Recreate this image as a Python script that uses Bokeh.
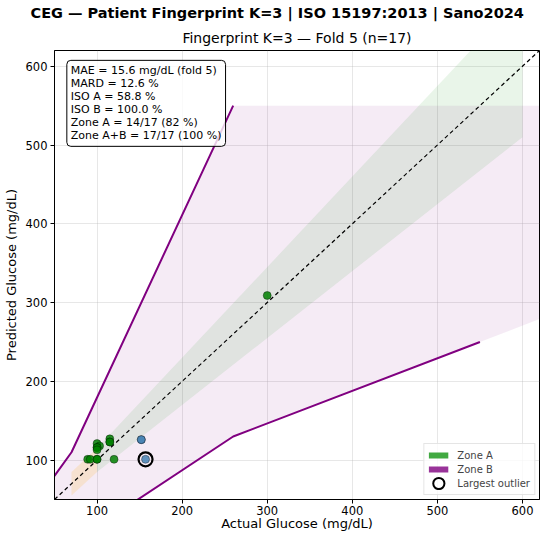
from bokeh.plotting import figure
from bokeh.models import (Range1d, FixedTicker, Label, Title, Legend, LegendItem)
from bokeh.embed import file_html
from bokeh.resources import INLINE

# ---------------- data ----------------
actual_a = [89, 92, 100, 100, 120, 100, 103, 100, 100, 100, 115, 115, 115, 300]
pred_a   = [101, 101, 101, 101, 101, 121, 118, 116, 116, 113, 127, 123, 123, 309]
actual_b = [152, 152, 157]
pred_b   = [126, 126, 101]
outlier_x = [157]
outlier_y = [101]

# Parkes type-1 zone B boundaries
zoneB_upper_x = [0, 50, 70, 260]
zoneB_upper_y = [70, 80, 110, 550]
zoneB_lower_x = [120, 120, 260, 550]
zoneB_lower_y = [0, 30, 130, 250]
zoneB_fill_x = [0, 50, 70, 260, 620, 620, 550, 260, 120, 120, 0]
zoneB_fill_y = [70, 80, 110, 550, 550, 279, 250, 130, 30, 0, 0]

# ISO 15197:2013 band (±15 mg/dL below 100, ±15 % above)
iso_hi_x = [100, 600, 600, 100]
iso_hi_y = [85, 510, 690, 115]
iso_lo_x = [70, 100, 100, 70]
iso_lo_y = [55, 85, 115, 85]

diag = [50, 620]
ticks = [100, 200, 300, 400, 500, 600]
nan = [float("nan")]

stats_lines = ["MAE = 15.6 mg/dL (fold 5)", "MARD = 12.6 %", "ISO A = 58.8 %",
               "ISO B = 100.0 %", "Zone A = 14/17 (82 %)", "Zone A+B = 17/17 (100 %)"]

FONT = "DejaVu Sans"

p = figure(width=540, height=533, output_backend="svg", toolbar_location=None,
           x_range=Range1d(50, 620), y_range=Range1d(50, 620),
           min_border_left=46, min_border_right=1, min_border_top=43, min_border_bottom=31)

p.title.text = "CEG \u2014 Patient Fingerprint K=3 | ISO 15197:2013 | Sano2024"
p.title.text_font = FONT
p.title.text_font_size = "14.5px"
p.title.text_font_style = "bold"
p.title.align = "left"
p.title.offset = -24
p.title.standoff = 4
p.title.text_color = "black"
p.add_layout(Title(text="Fingerprint K=3 \u2014 Fold 5 (n=17)",
                   text_font=FONT, text_font_size="14px", text_font_style="normal",
                   align="center", standoff=10, text_color="black"), "above")

p.outline_line_color = "black"
p.outline_line_width = 1
p.background_fill_color = "white"

for ax in (p.xaxis[0], p.yaxis[0]):
    ax.ticker = FixedTicker(ticks=ticks)
    ax.major_tick_out = 4
    ax.major_tick_in = 0
    ax.minor_tick_line_color = None
    ax.axis_line_color = "black"
    ax.major_tick_line_color = "black"
    ax.major_label_text_font = FONT
    ax.major_label_text_font_size = "11.5px"
    ax.major_label_text_color = "black"
    ax.axis_label_text_font = FONT
    ax.axis_label_text_font_size = "13px"
    ax.axis_label_text_font_style = "normal"
    ax.axis_label_text_color = "black"
p.xaxis.major_label_standoff = 2
p.xaxis.axis_label_standoff = -2
p.yaxis.major_label_standoff = 3
p.yaxis.axis_label_standoff = 4
p.xaxis.axis_label = "Actual Glucose (mg/dL)"
p.yaxis.axis_label = "Predicted Glucose (mg/dL)"

p.grid.grid_line_color = "#b0b0b0"
p.grid.grid_line_alpha = 0.3

# zones
p.patch(zoneB_fill_x, zoneB_fill_y, fill_color="purple", fill_alpha=0.08, line_color=None)
p.patch(iso_hi_x, iso_hi_y, fill_color="#2ca02c", fill_alpha=0.1, line_color=None)
p.patch(iso_lo_x, iso_lo_y, fill_color="orange", fill_alpha=0.15, line_color=None)
p.line(zoneB_upper_x, zoneB_upper_y, line_color="purple", line_width=2)
p.line(zoneB_lower_x, zoneB_lower_y, line_color="purple", line_width=2)
p.line(diag, diag, line_color="black", line_width=1.2, line_dash="4 3")

# points
p.scatter(actual_a, pred_a, size=8, fill_color="green", fill_alpha=0.85,
          line_color="black", line_alpha=0.6, line_width=0.6)
p.scatter(actual_b, pred_b, size=8, fill_color="steelblue", fill_alpha=0.85,
          line_color="black", line_alpha=0.6, line_width=0.6)
p.scatter(outlier_x, outlier_y, size=14, fill_color=None, line_color="black", line_width=2.2)

# legend proxies (NaN data: nothing drawn in the plot)
leg_a = p.line(nan, nan, line_color="#2ca02c", line_alpha=0.9, line_width=6)
leg_b = p.line(nan, nan, line_color="purple", line_alpha=0.8, line_width=6)
leg_o = p.ellipse(nan, nan, width=[10], height=[10], width_units="screen", height_units="screen",
                  fill_color=None, line_color="black", line_width=2)
legend = Legend(items=[LegendItem(label="Zone A", renderers=[leg_a]),
                       LegendItem(label="Zone B", renderers=[leg_b]),
                       LegendItem(label="Largest outlier", renderers=[leg_o])],
                location="bottom_right", label_text_font=FONT, label_text_font_size="10px",
                glyph_width=20, glyph_height=14, label_height=14, spacing=0,
                padding=4, margin=4, label_standoff=9,
                border_line_color="#cccccc", border_line_width=1,
                background_fill_color="white", background_fill_alpha=0.8)
p.add_layout(legend)

stats = Label(x=64.5, y=607.5, text="\n".join(stats_lines), anchor="top_left",
              text_font=FONT, text_font_size="11px", text_color="black", text_line_height=1.0,
              background_fill_color="white", background_fill_alpha=0.8,
              border_line_color="black", border_line_width=1, border_radius=4, padding=4)
p.add_layout(stats)

open("out.html", "w").write(file_html(p, INLINE))
